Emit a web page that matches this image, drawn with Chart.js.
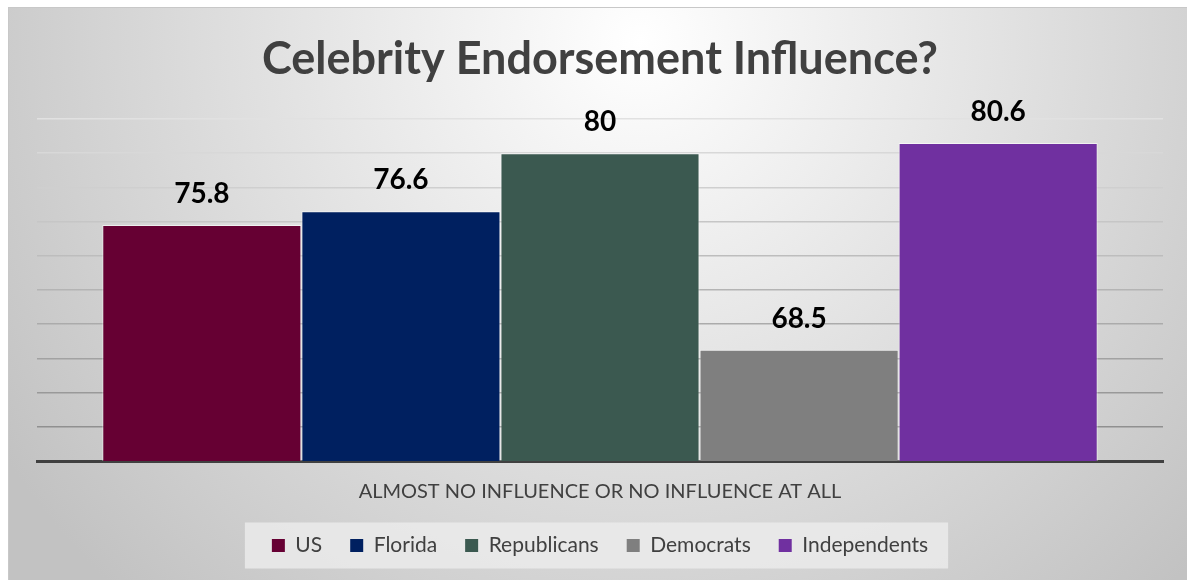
<!DOCTYPE html>
<html>
<head>
<meta charset="utf-8">
<title>Celebrity Endorsement Influence?</title>
<script src="https://cdn.jsdelivr.net/npm/chart.js@4/dist/chart.umd.min.js"></script>
<style>
    html, body { margin: 0; padding: 0; background: #ffffff; }
    #wrap { width: 1187px; height: 580px; position: relative; }
</style>
</head>
<body>
<div id="wrap"><canvas id="chart" width="1187" height="580"></canvas></div>
<script>
(function () {
    'use strict';

    // --- Data ---

    const categories = ['ALMOST NO INFLUENCE OR NO INFLUENCE AT ALL'];
    const groups = ['US', 'Florida', 'Republicans', 'Democrats', 'Independents'];
    const values = [75.8, 76.6, 80, 68.5, 80.6];
    const colors = ['#660033', '#002060', '#3b5950', '#7f7f7f', '#7030a0'];
    const yMin = 62;
    const yMax = 82;
    const yStep = 2;

    const FONT = 'Lato, "Open Sans", sans-serif';
    const TEXT = '#404040';

    // --- Plugins ---

    // frame with the soft grey radial fill, plus the pale box behind the legend
    const backdrop = {
        id: 'backdrop',
        beforeDraw(chart) {
            const ctx = chart.ctx;
            const w = chart.width;
            const h = chart.height;
            ctx.save();
            ctx.fillStyle = '#ffffff';
            ctx.fillRect(0, 0, w, h);
            const g = ctx.createRadialGradient(640, 40, 0, 640, 40, 760);
            g.addColorStop(0, '#ffffff');
            g.addColorStop(1, '#c2c2c2');
            ctx.fillStyle = g;
            ctx.fillRect(8, 7, w - 8, h - 7);
            ctx.strokeStyle = '#c8c8c8';
            ctx.lineWidth = 1;
            ctx.strokeRect(8.5, 7.5, w, h);

            const boxes = chart.legend && chart.legend.legendHitBoxes;
            if (boxes && boxes.length) {
                const first = boxes[0];
                const last = boxes[boxes.length - 1];
                const cy = first.top + first.height / 2;
                ctx.fillStyle = 'rgba(236, 236, 236, 0.8)';
                ctx.fillRect(first.left - 27, cy - 23, last.left + last.width - first.left + 47, 46);
            }
            ctx.restore();
        },
    };

    // value printed above each bar
    const valueLabels = {
        id: 'valueLabels',
        afterDatasetsDraw(chart) {
            const ctx = chart.ctx;
            ctx.save();
            ctx.font = 'bold 28px ' + FONT;
            ctx.fillStyle = '#000000';
            ctx.textAlign = 'center';
            ctx.textBaseline = 'middle';
            chart.data.datasets.forEach((ds, i) => {
                const meta = chart.getDatasetMeta(i);
                meta.data.forEach((bar, j) => {
                    ctx.fillText(String(ds.data[j]), bar.x, bar.y - 31);
                });
            });
            ctx.restore();
        },
    };

    // --- Chart ---

    const datasets = groups.map((name, i) => ({
        label: name,
        data: [values[i]],
        backgroundColor: colors[i],
        borderColor: 'rgba(255, 255, 255, 0.6)',
        borderWidth: 1,
    }));

    const ctx = document.getElementById('chart').getContext('2d');
    new Chart(ctx, {
        type: 'bar',
        data: { labels: categories, datasets },
        plugins: [backdrop, valueLabels],
        options: {
            responsive: false,
            animation: false,
            categoryPercentage: 0.884,
            barPercentage: 1,
            layout: { padding: { left: 37, right: 24, top: 7, bottom: 14 } },
            plugins: {
                title: {
                    display: true,
                    text: 'Celebrity Endorsement Influence?',
                    color: TEXT,
                    font: { family: FONT, size: 45, weight: 'bold', lineHeight: 1.2 },
                    padding: { top: 25, bottom: 33 },
                },
                legend: {
                    position: 'bottom',
                    labels: {
                        color: TEXT,
                        font: { family: FONT, size: 21 },
                        boxWidth: 13,
                        boxHeight: 13,
                        padding: 28,
                        generateLabels(chart) {
                            const items = Chart.defaults.plugins.legend.labels.generateLabels(chart);
                            items.forEach(it => {
                                it.strokeStyle = it.fillStyle;
                                it.lineWidth = 0;
                            });
                            return items;
                        },
                    },
                },
                tooltip: { enabled: false },
            },
            scales: {
                x: {
                    grid: { display: false, drawTicks: false },
                    border: { display: true, color: '#404040', width: 3 },
                    ticks: {
                        color: TEXT,
                        font: { family: FONT, size: 20 },
                        padding: 19,
                    },
                    afterFit(scale) {
                        scale.height = 46;
                    },
                },
                y: {
                    min: yMin,
                    max: yMax,
                    ticks: { display: false, stepSize: yStep },
                    border: { display: false },
                    grid: {
                        drawTicks: false,
                        lineWidth: 1.5,
                        // lines fade out towards the top of the plot
                        color: (c) => {
                            const v = c.tick ? c.tick.value : yMin;
                            if (v <= yMin) return 'rgba(0,0,0,0)';
                            const t = (v - yMin) / (yMax - yMin);
                            const shade = Math.round(135 + t * 90);
                            return 'rgb(' + shade + ',' + shade + ',' + shade + ')';
                        },
                    },
                },
            },
        },
    });
})();
</script>
</body>
</html>
